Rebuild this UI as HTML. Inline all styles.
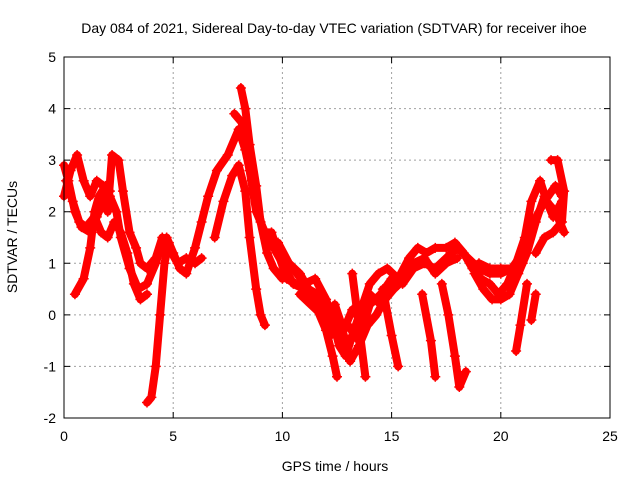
<!DOCTYPE html>
<html><head><meta charset="utf-8"><style>
body{margin:0;background:#fff;}
svg{display:block;font-family:"Liberation Sans",sans-serif;}
</style></head><body>
<svg id="chart" width="640" height="480" viewBox="0 0 640 480">
<rect x="0" y="0" width="640" height="480" fill="#fff"/>
<text x="334" y="33" font-size="14" text-anchor="middle">Day 084 of 2021, Sidereal Day-to-day VTEC variation (SDTVAR) for receiver ihoe</text>
<g id="grid"></g>
<g id="series"></g>
<rect x="64" y="57" width="546" height="361" fill="none" stroke="#000" stroke-width="1"/>
<g id="ticks"></g>
<text x="335" y="471" font-size="14" text-anchor="middle">GPS time / hours</text>
<text x="17" y="237" font-size="14" text-anchor="middle" transform="rotate(-90 17 237)">SDTVAR / TECUs</text>
</svg>
<script>
const xTicks=[0,5,10,15,20,25];
const yTicks=[-2,-1,0,1,2,3,4,5];
const trackA_t=[0,0.2,0.5,0.8,1.2,1.5,1.8,2.1,2.4,2.6,3.0,3.4,3.8,4.2,4.5,4.7,5.0,5.3,5.6,6.0,6.3,6.6,7.0,7.5,8.0,8.3,8.6,8.9,9.2,9.6,10,10.5,11,11.5,12,12.5,13,13.5,14,14.5,15,15.5,16,16.5,17,17.5,18,18.5,19,19.5,20,20.5,21,21.5,22,22.5,22.8];
const trackA_v=[2.9,2.6,2.0,1.7,1.6,1.9,2.2,2.3,2.0,1.5,0.9,0.5,0.6,1.0,1.4,1.5,1.2,0.9,0.8,1.3,1.8,2.3,2.8,3.1,3.6,3.2,2.6,2.0,1.5,1.3,1.0,0.6,0.5,0.3,-0.1,-0.3,-0.2,-0.5,0.2,0.4,0.7,0.6,0.9,1.0,0.9,1.1,1.3,1.1,0.9,0.8,0.8,0.9,1.2,1.8,2.2,2.5,2.3];
const trackB_t=[0,0.3,0.6,0.9,1.2,1.5,1.8,2.0,2.2,2.5,2.7,3.0,3.3,3.5,3.8,4.2,4.5,4.8,5.2,5.6,6.0,6.3];
const trackB_v=[2.3,2.8,3.1,2.6,2.3,2.6,2.5,2.0,3.1,3.0,2.4,1.6,1.3,1.0,0.9,1.1,1.5,1.3,1.0,1.1,1.0,1.1];
const trackC_t=[0.5,0.9,1.2,1.4,1.6,1.9,2.1];
const trackC_v=[0.4,0.7,1.3,2.0,2.3,2.5,2.4];
const trackD_t=[3.8,4.0,4.2,4.4,4.6,4.8];
const trackD_v=[-1.7,-1.6,-1.0,0.0,1.0,1.4];
const trackE_t=[0.1,0.4,0.7,1.0,1.4,1.7,2.0,2.3,2.6,2.9,3.2,3.5,3.8];
const trackE_v=[2.6,2.2,1.8,1.7,1.9,1.6,1.5,1.8,1.6,1.2,0.6,0.3,0.4];
const trackF_t=[6.9,7.3,7.7,8.0,8.3,8.5,8.8,9.0,9.2];
const trackF_v=[1.5,2.2,2.7,2.9,2.4,1.5,0.5,0.0,-0.2];
const trackG_t=[8.1,8.3,8.5,8.8,9.0,9.3,9.6,10];
const trackG_v=[4.4,4.0,3.3,2.5,1.8,1.2,0.9,0.7];
const trackH_t=[7.8,8.2,8.5,8.8,9.2,9.5,9.8,10.2,10.6];
const trackH_v=[3.9,3.7,2.8,2.0,1.6,1.6,1.2,0.7,0.6];
const trackI_t=[10.5,11,11.5,12,12.3,12.6,12.9,13.2,13.6,14,14.4,14.8,15.3,15.8,16.2,16.6,17,17.5,17.9,18.3,18.7,19.1,19.5,19.9,20.3,20.7,21.1,21.4,21.8,22.1,22.5,22.9];
const trackI_v=[0.9,0.6,0.7,0.3,-0.1,-0.6,-0.8,-0.4,0.1,0.6,0.8,0.9,0.7,1.1,1.3,1.2,1.3,1.3,1.4,1.2,0.9,0.7,0.6,0.4,0.6,1.0,1.5,2.2,2.6,2.2,2.0,1.6];
const trackM_t=[9.8,10.3,10.8,11.2,11.6,12.0,12.4,12.8,13.2,13.6,14.0,14.5,15.0,15.5,16.0,16.5,17.0,17.5,18.0];
const trackM_v=[1.4,1.0,0.8,0.5,0.4,0.0,0.2,-0.3,0.1,-0.1,0.4,0.2,0.6,0.8,1.0,1.1,0.8,1.0,1.1];
const trackN_t=[10.8,11.3,11.8,12.2,12.7,13.1,13.5,13.9,14.3,14.7,15.1,15.6];
const trackN_v=[0.4,0.2,0.0,-0.4,-0.2,-0.9,-0.6,-0.2,0.0,0.3,0.5,0.7];
const trackJ1_t=[11.5,12,12.3,12.5]; const trackJ1_v=[0.2,-0.3,-0.8,-1.2];
const trackJ2_t=[13.2,13.5,13.8]; const trackJ2_v=[0.8,-0.2,-1.2];
const trackJ3_t=[14.6,15.0,15.3]; const trackJ3_v=[0.5,-0.4,-1.0];
const trackJ4_t=[16.4,16.8,17.0]; const trackJ4_v=[0.4,-0.5,-1.2];
const trackJ5_t=[17.3,17.6,17.9,18.1,18.4]; const trackJ5_v=[0.6,0.0,-0.8,-1.4,-1.1];
const trackJ6_t=[21.2,20.9,20.7]; const trackJ6_v=[0.6,-0.2,-0.7];
const trackJ7_t=[21.6,21.4]; const trackJ7_v=[0.4,-0.1];
const trackK_t=[22.3,22.6,22.9,22.8,22.4,22.0,21.6]; const trackK_v=[3.0,3.0,2.4,1.8,1.6,1.5,1.2];
const trackL_t=[19,19.5,20,20.5,21]; const trackL_v=[1.0,0.9,0.9,0.9,1.0];
const trackO_t=[18.8,19.2,19.6,20.0,20.4,20.8,21.2,21.6,22.0,22.4,22.8]; const trackO_v=[0.8,0.5,0.3,0.3,0.4,0.8,1.2,1.8,2.3,1.9,2.2];
const tracks=[[trackA_t,trackA_v],[trackB_t,trackB_v],[trackC_t,trackC_v],[trackD_t,trackD_v],[trackE_t,trackE_v],[trackF_t,trackF_v],[trackG_t,trackG_v],[trackH_t,trackH_v],[trackI_t,trackI_v],[trackM_t,trackM_v],[trackN_t,trackN_v],[trackJ1_t,trackJ1_v],[trackJ2_t,trackJ2_v],[trackJ3_t,trackJ3_v],[trackJ4_t,trackJ4_v],[trackJ5_t,trackJ5_v],[trackJ6_t,trackJ6_v],[trackJ7_t,trackJ7_v],[trackK_t,trackK_v],[trackL_t,trackL_v],[trackO_t,trackO_v]];
const X0=64,X1=610,Y0=418,Y1=57;
function xs(t){return X0+(t-0)/(25-0)*(X1-X0);}
function ys(v){return Y0-(v+2)/(5+2)*(Y0-Y1);}
const NS='http://www.w3.org/2000/svg';
const grid=document.getElementById('grid'),ticks=document.getElementById('ticks'),ser=document.getElementById('series');
function mk(tag,at,parent){const e=document.createElementNS(NS,tag);for(const k in at)e.setAttribute(k,at[k]);parent.appendChild(e);return e;}
xTicks.forEach(t=>{
  const x=xs(t);
  if(t>0&&t<25){const g=mk('line',{x1:x,x2:x,y1:Y1,y2:Y0,stroke:'#a0a0a0','stroke-dasharray':'2,3'},grid);
  
  }
  const tk=mk('path',{d:`M${x} ${Y0}v-6M${x} ${Y1}v6`,stroke:'#000'},ticks);
  
  
  const l=mk('text',{x:x,y:Y0+23,'font-size':14,'text-anchor':'middle'},ticks);l.textContent=t;
  
  
});
yTicks.forEach(v=>{
  const y=ys(v);
  if(v>-2&&v<5){const g=mk('line',{x1:X0,x2:X1,y1:y,y2:y,stroke:'#a0a0a0','stroke-dasharray':'2,3'},grid);
  
  }
  const tk=mk('path',{d:`M${X0} ${y}h6M${X1} ${y}h-6`,stroke:'#000'},ticks);
  
  
  const l=mk('text',{x:X0-8,y:y+5,'font-size':14,'text-anchor':'end'},ticks);l.textContent=v;
  
  
});
tracks.forEach(([T,V])=>{
  const pts=T.map((t,i)=>xs(t)+','+ys(V[i])).join(' ');
  const pl=mk('polyline',{points:pts,fill:'none',stroke:'#ff0000','stroke-width':8,'stroke-linejoin':'round','stroke-linecap':'round'},ser);
  
  
  T.forEach((t,i)=>{
    const x=xs(t),y=ys(V[i]);
    const m=mk('path',{d:`M${x-5} ${y}h10M${x} ${y-5}v10`,stroke:'#ff0000','stroke-width':1.5},ser);
    
    
  });
});
</script>
</body></html>
